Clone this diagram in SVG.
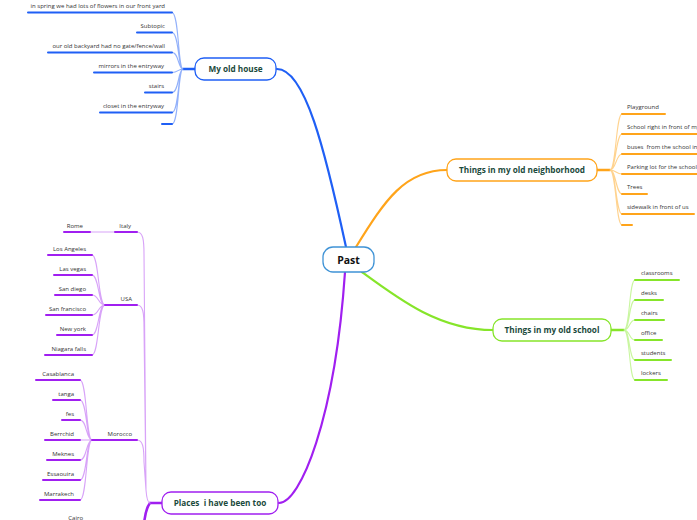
<svg xmlns="http://www.w3.org/2000/svg" width="697" height="520" viewBox="0 0 697 520">
<style>
.node rect{fill:#fff;stroke-width:1.3}
.title{font-family:"Open Sans","Noto Sans",sans-serif;font-weight:bold;font-size:8.2px;fill:#1b4a3c;text-anchor:middle}
.leaf{font-family:"Open Sans","Noto Sans",sans-serif;font-size:6px;fill:#333}
.end{text-anchor:end}
.c{fill:none;stroke-linecap:round}
.b{stroke:#1f5ff5}.bl{stroke:#93b1fa}
.o{stroke:#ffa41a}.ol{stroke:#ffd38f}
.g{stroke:#86e52a}.gl{stroke:#c9f6a0}
.p{stroke:#a01ff0}.pl{stroke:#d8a3f8}
.u{stroke-width:2}
.m{stroke-width:2.2}
.l{stroke-width:1.1}
.t{stroke-width:2.6}
</style>
<g id="connectors">
<path class="c b m" d="M346 247 C325 150 305 69 277 69"/>
<path class="c o m" d="M356 247 C385 200 405 170 447 170"/>
<path class="c g m" d="M362 272 C400 300 440 330 493 330"/>
<path class="c p m" d="M345 272 C335 420 300 503 279 503"/>
<path class="c b t" d="M183 69 H195"/>
<path class="c bl l" d="M172 12.5 C179 12.5 178 69 183 69 M172 32.5 C179 32.5 178 69 183 69 M172 52.5 C179 52.5 178 69 183 69 M172 72.5 C178 72.5 178 69 183 69 M172 92.5 C179 92.5 178 69 183 69 M172 112.5 C179 112.5 178 69 183 69 M172 124 C179 124 178 69 183 69"/>
<path class="c b u" d="M28 12.5 H172 M137 32.5 H172 M48 52.5 H172 M94 72.5 H172 M145 92.5 H172 M100 112.5 H172 M162 124 H172"/>
<path class="c o t" d="M597 170 H610"/>
<path class="c ol l" d="M610 170 C616 170 616 114 622 114 M610 170 C616 170 616 134 622 134 M610 170 C616 170 616 154 622 154 M610 170 C616 170 616 174 622 174 M610 170 C616 170 616 194 622 194 M610 170 C616 170 616 214 622 214 M610 170 C616 170 616 225 622 225"/>
<path class="c o u" d="M622 114 H665 M622 134 H700 M622 154 H700 M622 174 H700 M622 194 H647 M622 214 H694 M622 225 H632"/>
<path class="c g t" d="M611 330 H624"/>
<path class="c gl l" d="M624 330 C630 330 629 280 635 280 M624 330 C630 330 629 300 635 300 M624 330 C630 330 629 320 635 320 M624 330 C630 330 629 340 635 340 M624 330 C630 330 629 360 635 360 M624 330 C630 330 629 380 635 380"/>
<path class="c g u" d="M635 280 H679 M635 300 H663 M635 320 H664 M635 340 H662 M635 360 H671 M635 380 H667"/>
<path class="c p t" d="M150 503 H162 M150 503 C146 508 145 514 144 524"/>
<path class="c pl l" d="M137 232 C143 232 144 240 144 254 L146 490 Q147 503 150 503 M137 305 C143 305 144 313 144 327 L146 490 Q147 503 150 503 M137 440 C143 440 144 448 144 462 L146 490 Q147 503 150 503"/>
<path class="c pl l" d="M90 232 H115"/>
<path class="c pl l" d="M92 255 C99 255 98 305 105 305 M92 275 C99 275 98 305 105 305 M92 295 C99 295 98 305 105 305 M92 315 C99 315 98 305 105 305 M92 335 C99 335 98 305 105 305 M92 355 C99 355 98 305 105 305"/>
<path class="c pl l" d="M80 380 C87 380 86 440 92 440 M80 400 C87 400 86 440 92 440 M80 420 C87 420 86 440 92 440 M80 440 H92 M80 460 C87 460 86 440 92 440 M80 480 C87 480 86 440 92 440 M80 500 C87 500 86 440 92 440"/>
<path class="c p u" d="M115 232 H137 M64 232 H90 M105 305 H137 M48 255 H92 M54 275 H92 M55 295 H92 M46 315 H92 M57 335 H92 M45 355 H92 M92 440 H137 M36 380 H80 M53 400 H80 M62 420 H80 M45 440 H80 M47 460 H80 M43 480 H80 M40 500 H80"/>
</g>
<g id="past" class="node"><rect x="323" y="247" width="51" height="25" rx="10" style="stroke:#3f93d6"/><text x="348.5" y="264" style="font-family:'Open Sans','Noto Sans',sans-serif;font-weight:bold;font-size:10.5px;fill:#111;text-anchor:middle">Past</text></g>
<g id="my-old-house" class="node"><rect x="195" y="58" width="81" height="22" rx="9" style="stroke:#1f5ff5"/><text class="title" x="235.5" y="72">My old house</text></g>
<g id="neighborhood" class="node"><rect x="447" y="159" width="150" height="22" rx="9" style="stroke:#ffa41a"/><text class="title" x="522" y="173">Things in my old neighborhood</text></g>
<g id="school" class="node"><rect x="493" y="319" width="118" height="22" rx="9" style="stroke:#86e52a"/><text class="title" x="552" y="333">Things in my old school</text></g>
<g id="places" class="node"><rect x="162" y="492" width="116" height="22" rx="9" style="stroke:#a01ff0"/><text class="title" x="220" y="506" xml:space="preserve">Places  i have been too</text></g>
<g id="house-items" class="leaf end">
<text x="165" y="8">in spring we had lots of flowers in our front yard</text>
<text x="165" y="28">Subtopic</text>
<text x="165" y="48">our old backyard had no gate/fence/wall</text>
<text x="164" y="68">mirrors in the entryway</text>
<text x="164" y="88">stairs</text>
<text x="164" y="108">closet in the entryway</text>
</g>
<g id="neighborhood-items" class="leaf">
<text x="627" y="109">Playground</text>
<text x="627" y="129">School right in front of my</text>
<text x="627" y="149" xml:space="preserve">buses  from the school in</text>
<text x="627" y="169">Parking lot for the school</text>
<text x="627" y="189">Trees</text>
<text x="627" y="209">sidewalk in front of us</text>
</g>
<g id="school-items" class="leaf">
<text x="641" y="275">classrooms</text>
<text x="641" y="295">desks</text>
<text x="641" y="315">chairs</text>
<text x="641" y="335">office</text>
<text x="641" y="355">students</text>
<text x="641" y="375">lockers</text>
</g>
<g id="italy" class="leaf end"><text x="131" y="228">Italy</text><text x="83" y="228">Rome</text></g>
<g id="usa" class="leaf end">
<text x="132" y="301">USA</text>
<text x="86" y="251">Los Angeles</text>
<text x="86" y="271">Las vegas</text>
<text x="86" y="291">San diego</text>
<text x="86" y="311">San francisco</text>
<text x="86" y="331">New york</text>
<text x="86" y="351">Niagara falls</text>
</g>
<g id="morocco" class="leaf end">
<text x="132" y="436">Morocco</text>
<text x="74" y="376">Casablanca</text>
<text x="74" y="396">tanga</text>
<text x="74" y="416">fes</text>
<text x="74" y="436">Berrchid</text>
<text x="74" y="456">Meknes</text>
<text x="74" y="476">Essaouira</text>
<text x="74" y="496">Marrakech</text>
</g>
<g id="egypt" class="leaf end"><text x="83" y="519.5">Cairo</text></g>
</svg>
